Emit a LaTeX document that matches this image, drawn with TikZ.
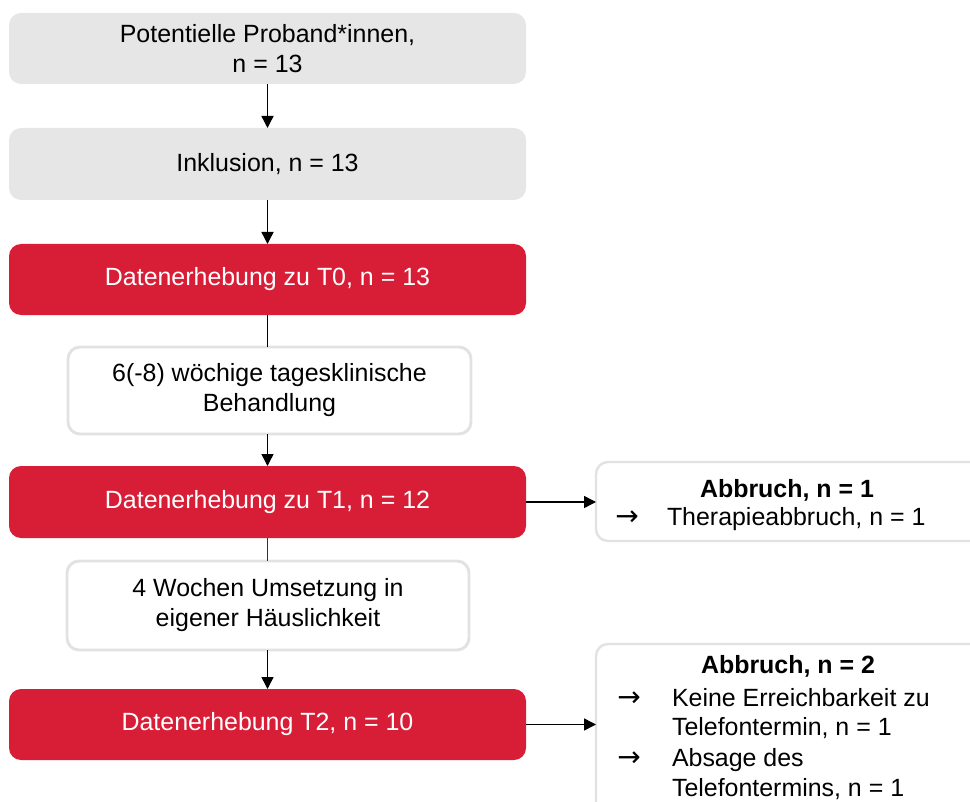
\documentclass[tikz,border=0pt]{standalone}
\usepackage{fontspec}
\setmainfont{Liberation Sans}
\newfontfamily\arrowfont{DejaVu Sans}
\usetikzlibrary{arrows.meta}
\definecolor{boxgray}{RGB}{230,230,230}
\definecolor{boxred}{RGB}{216,30,54}
\definecolor{edgegray}{RGB}{226,226,226}
\begin{document}
\begin{tikzpicture}[x=0.75pt,y=-0.75pt,
  base/.style={rectangle,rounded corners=9pt,inner sep=0pt,outer sep=0pt,align=center,
    font=\fontsize{18.7pt}{22.5pt}\selectfont},
  graybox/.style={base,fill=boxgray,text=black,minimum width=387.75pt},
  redbox/.style={base,fill=boxred,text=white,minimum width=387.75pt},
  whitebox/.style={base,fill=white,draw=edgegray,line width=2.2pt,text=black},
  sidebox/.style={base,fill=white,draw=edgegray,line width=1.8pt,minimum width=303pt},
  txt/.style={inner sep=0pt,outer sep=0pt,font=\fontsize{18.7pt}{22.5pt}\selectfont},
  bold/.style={txt,font=\fontsize{18.7pt}{22.5pt}\selectfont\bfseries},
  arrsym/.style={txt,font=\fontsize{21pt}{22.5pt}\arrowfont},
  conn/.style={line width=1.1pt,black},
  thinconn/.style={line width=0.8pt,black!80},
  arr/.style={conn,-{Triangle[width=9pt,length=9pt]}}]
\useasboundingbox (0,0) rectangle (970,802);
\node[graybox,minimum height=53.25pt] (b1) at (267.5,48.5) {Potentielle Proband*innen,\\n = 13};
\node[graybox,minimum height=54pt] (b2) at (267.5,164) {Inklusion, n = 13};
\node[redbox,minimum height=53.25pt] (b3) at (267.5,279.5) {Datenerhebung zu T0, n = 13};
\node[whitebox,minimum width=302.25pt,minimum height=65.25pt] (b4) at (269.5,390.5) {6(-8) wöchige tagesklinische\\Behandlung};
\node[redbox,minimum height=54pt] (b5) at (267.5,502) {Datenerhebung zu T1, n = 12};
\node[whitebox,minimum width=301.5pt,minimum height=66.75pt] (b6) at (268,605.5) {4 Wochen Umsetzung in\\eigener Häuslichkeit};
\node[redbox,minimum height=53.25pt] (b7) at (267.5,724.5) {Datenerhebung T2, n = 10};
\node[sidebox,minimum height=59.25pt] (r1) at (798,501.5) {};
\node[sidebox,minimum height=139.5pt] (r2) at (798,737) {};
% side box 1 text
\node[bold,anchor=base] (r1t) at (787,497) {Abbruch, n = 1};
\node[arrsym,anchor=base] (r1a) at (627,525) {→};
\node[txt,anchor=base west] (r1l) at (667,525) {Therapieabbruch, n = 1};
% side box 2 text
\node[bold,anchor=base] (r2t) at (788,673) {Abbruch, n = 2};
\node[arrsym,anchor=base] (r2a1) at (629,706) {→};
\node[txt,anchor=base west] (r2l1) at (672,706) {Keine Erreichbarkeit zu};
\node[txt,anchor=base west] (r2l2) at (672,735) {Telefontermin, n = 1};
\node[arrsym,anchor=base] (r2a2) at (629,766) {→};
\node[txt,anchor=base west] (r2l3) at (672,766) {Absage des};
\node[txt,anchor=base west] (r2l4) at (672,796) {Telefontermins, n = 1};
% connectors
\draw[arr] (b1.south) -- (b2.north);
\draw[arr] (b2.south) -- (b3.north);
\draw[conn] (b3.south) -- (b3.south |- b4.north);
\draw[arr] (b4.south -| b5.north) -- (b5.north);
\draw[thinconn] (b5.south) -- (b5.south |- b6.north);
\draw[arr] (b6.south -| b7.north) -- (b7.north);
\draw[arr] (b5.east) -- (b5.east -| r1.west);
\draw[arr] (b7.east) -- (b7.east -| r2.west);
\end{tikzpicture}
\end{document}
